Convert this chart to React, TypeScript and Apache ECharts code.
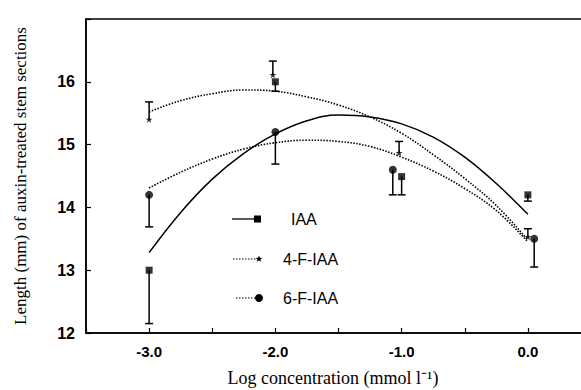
import React, { useEffect, useRef } from "react";
import * as echarts from "echarts";

// Measured points (log concentration, length mm) and error-bar ends
const iaaX = [-3.0, -2.0, -1.0, 0.0];
const iaaY = [13.0, 16.0, 14.49, 14.2];
const iaaErr = [12.15, 15.85, 14.2, 14.1];

const f4X = [-3.0, -2.02, -1.02, 0.0];
const f4Y = [15.4, 16.11, 14.87, 13.53];
const f4Err = [15.68, 16.33, 15.05, 13.66];

const f6X = [-3.0, -2.0, -1.07, 0.05];
const f6Y = [14.2, 15.2, 14.6, 13.5];
const f6Err = [13.69, 14.69, 14.2, 13.05];

// Fitted curves
const curveX = [-3.0, -2.75, -2.5, -2.25, -2.0, -1.75, -1.5, -1.25, -1.0, -0.75, -0.5, -0.25, 0.0];
const iaaCurve = [13.28, 13.92, 14.45, 14.86, 15.17, 15.38, 15.47, 15.44, 15.33, 15.12, 14.8, 14.38, 13.89];
const f4Curve = [15.52, 15.7, 15.81, 15.87, 15.85, 15.76, 15.63, 15.44, 15.18, 14.84, 14.46, 14.03, 13.48];
const f6Curve = [14.31, 14.56, 14.77, 14.93, 15.03, 15.07, 15.05, 14.97, 14.8, 14.58, 14.3, 13.95, 13.45];

const xTickLabels = ["-3.0", "-2.0", "-1.0", "0.0"];
const yTickLabels = ["12", "13", "14", "15", "16"];

const legendNames = ["IAA", "4-F-IAA", "6-F-IAA"];

const STAR =
  "path://M50,0 L61,35 L98,35 L68,57 L79,91 L50,70 L21,91 L32,57 L2,35 L39,35 Z";

const zip = (xs: number[], ys: number[]) => xs.map((x, i) => [x, ys[i]]);
const errData = (xs: number[], ys: number[], es: number[]) =>
  xs.map((x, i) => [x, ys[i], es[i]]);

const errorRender = (params: any, api: any) => {
  const x = api.value(0);
  const p0 = api.coord([x, api.value(1)]);
  const p1 = api.coord([x, api.value(2)]);
  const half = 4;
  return {
    type: "group",
    children: [
      {
        type: "line",
        shape: { x1: p0[0], y1: p0[1], x2: p1[0], y2: p1[1] },
        style: { stroke: "#000", lineWidth: 1.5 },
      },
      {
        type: "line",
        shape: { x1: p1[0] - half, y1: p1[1], x2: p1[0] + half, y2: p1[1] },
        style: { stroke: "#000", lineWidth: 1.5 },
      },
    ],
  };
};

function starPoints(cx: number, cy: number, r: number) {
  const pts: number[][] = [];
  for (let i = 0; i < 10; i++) {
    const rr = i % 2 === 0 ? r : r * 0.45;
    const a = -Math.PI / 2 + (i * Math.PI) / 5;
    pts.push([cx + rr * Math.cos(a), cy + rr * Math.sin(a)]);
  }
  return pts;
}

export default function App() {
  const ref = useRef<HTMLDivElement>(null);
  useEffect(() => {
    document.body.style.margin = "0";
    if (!ref.current) return;
    const chart = echarts.init(ref.current, undefined, { renderer: "svg" });
    const sans = "Liberation Sans";
    const serif = "Liberation Serif";
    const legY = [219, 259, 298];
    const legText = [291, 283, 283];
    chart.setOption({
      animation: false,
      backgroundColor: "#fff",
      grid: {
        left: 86,
        right: -10,
        top: 19,
        bottom: 57,
        show: true,
        borderColor: "#000",
        borderWidth: 1.5,
        backgroundColor: "transparent",
        containLabel: false,
        outerBoundsMode: "none",
      },
      xAxis: {
        type: "value",
        min: -3.5,
        max: 0.5,
        interval: 0.5,
        axisLine: { onZero: false, lineStyle: { color: "#000", width: 1.5 } },
        axisTick: { inside: true, length: 5, lineStyle: { color: "#000", width: 1.2 } },
        splitLine: { show: false },
        axisLabel: {
          margin: 11,
          color: "#000",
          fontFamily: sans,
          fontSize: 15,
          fontWeight: "bold",
          formatter: (v: number) => {
            const i = Math.round(v + 3);
            return Math.abs(v - Math.round(v)) < 1e-6 && i >= 0 && i < xTickLabels.length
              ? xTickLabels[i]
              : "";
          },
        },
      },
      yAxis: {
        type: "value",
        min: 12,
        max: 17,
        interval: 1,
        name: "Length (mm) of auxin-treated stem sections",
        nameLocation: "middle",
        nameGap: 57,
        nameTextStyle: { fontFamily: serif, fontSize: 17, color: "#000" },
        axisLine: { show: true, onZero: false, lineStyle: { color: "#000", width: 1.5 } },
        axisTick: { inside: true, length: 5, lineStyle: { color: "#000", width: 1.2 } },
        splitLine: { show: false },
        axisLabel: {
          margin: 11,
          color: "#000",
          fontFamily: sans,
          fontSize: 16,
          fontWeight: "bold",
          formatter: (v: number) => {
            const i = Math.round(v - 12);
            return i >= 0 && i < yTickLabels.length ? yTickLabels[i] : "";
          },
        },
      },
      series: [
        {
          type: "line",
          data: zip(curveX, iaaCurve),
          smooth: 0.4,
          symbol: "none",
          lineStyle: { color: "#000", width: 1.5 },
        },
        {
          type: "line",
          data: zip(curveX, f4Curve),
          smooth: 0.4,
          symbol: "none",
          lineStyle: { color: "#000", width: 1.6, type: [1.5, 1.5] },
        },
        {
          type: "line",
          data: zip(curveX, f6Curve),
          smooth: 0.4,
          symbol: "none",
          lineStyle: { color: "#000", width: 1.6, type: [1.5, 1.5] },
        },
        { type: "custom", renderItem: errorRender, data: errData(iaaX, iaaY, iaaErr), z: 3 },
        { type: "custom", renderItem: errorRender, data: errData(f4X, f4Y, f4Err), z: 3 },
        { type: "custom", renderItem: errorRender, data: errData(f6X, f6Y, f6Err), z: 3 },
        {
          type: "scatter",
          name: legendNames[0],
          data: zip(iaaX, iaaY),
          symbol: "rect",
          symbolSize: 7,
          itemStyle: { color: "#000" },
          z: 4,
        },
        {
          type: "scatter",
          name: legendNames[1],
          data: zip(f4X, f4Y),
          symbol: STAR,
          symbolSize: 7,
          itemStyle: { color: "#000" },
          z: 4,
        },
        {
          type: "scatter",
          name: legendNames[2],
          data: zip(f6X, f6Y),
          symbol: "circle",
          symbolSize: 8,
          itemStyle: { color: "#000" },
          z: 4,
        },
      ],
      graphic: [
        {
          type: "text",
          x: 333,
          y: 378,
          style: {
            text: "Log concentration (mmol l⁻¹)",
            fontFamily: serif,
            fontSize: 18,
            fill: "#000",
            align: "center",
            verticalAlign: "middle",
          },
        },
        // legend
        {
          type: "line",
          shape: { x1: 232, y1: legY[0], x2: 255, y2: legY[0] },
          style: { stroke: "#000", lineWidth: 1.3 },
        },
        { type: "rect", shape: { x: 254, y: legY[0] - 3.5, width: 7, height: 7 }, style: { fill: "#000" } },
        {
          type: "line",
          shape: { x1: 233, y1: legY[1], x2: 257, y2: legY[1] },
          style: { stroke: "#000", lineWidth: 1.2, lineDash: [1.5, 1.5] },
        },
        { type: "polygon", shape: { points: starPoints(259, legY[1], 3.5) }, style: { fill: "#000" } },
        {
          type: "line",
          shape: { x1: 236, y1: legY[2], x2: 256, y2: legY[2] },
          style: { stroke: "#000", lineWidth: 1.2, lineDash: [1.5, 1.5] },
        },
        { type: "circle", shape: { cx: 259, cy: legY[2], r: 4 }, style: { fill: "#000" } },
        ...legendNames.map((n, i) => ({
          type: "text",
          x: legText[i],
          y: legY[i],
          style: {
            text: n,
            fontFamily: sans,
            fontSize: 16,
            fill: "#000",
            verticalAlign: "middle",
          },
        })),
      ],
    });
    return () => chart.dispose();
  }, []);
  return <div ref={ref} style={{ width: 581, height: 390 }} />;
}
